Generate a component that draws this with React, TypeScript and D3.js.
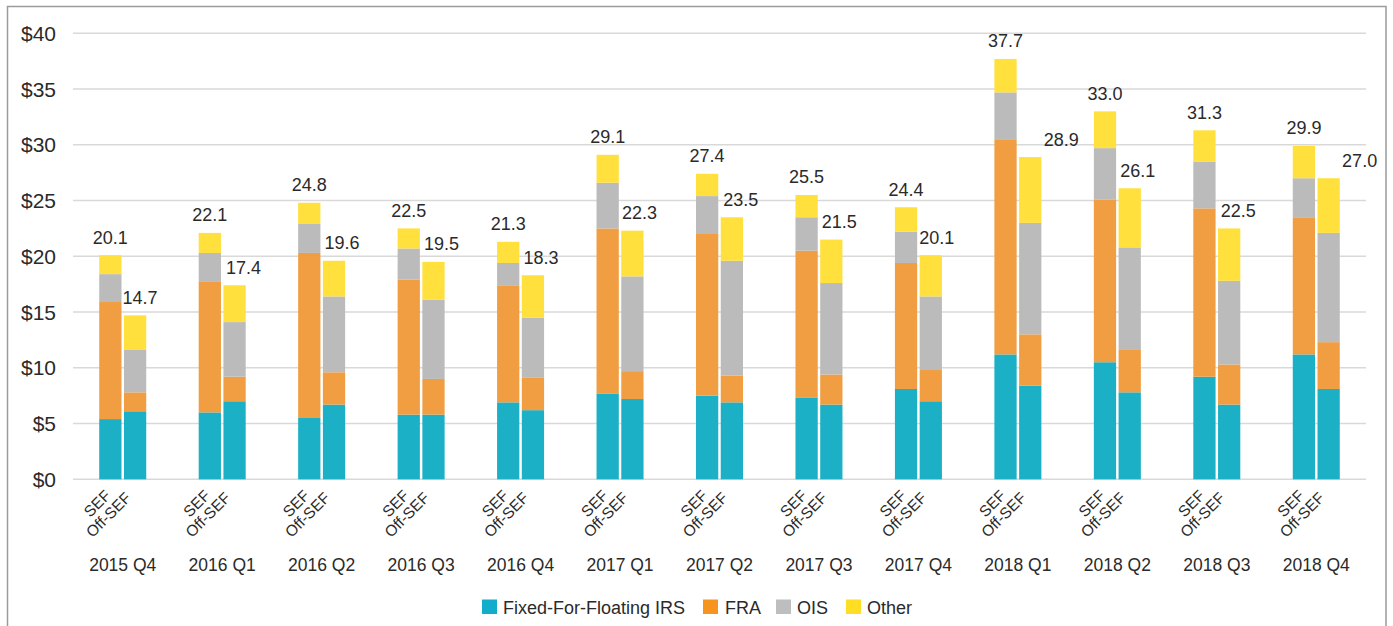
import React from "react";
import * as d3 from "d3";

const quarters = ["2015 Q4", "2016 Q1", "2016 Q2", "2016 Q3", "2016 Q4", "2017 Q1", "2017 Q2", "2017 Q3", "2017 Q4", "2018 Q1", "2018 Q2", "2018 Q3", "2018 Q4"];
const venues = ["SEF", "Off-SEF"];
const seriesNames = ["Fixed-For-Floating IRS", "FRA", "OIS", "Other"];

const sefFixedFloat = [5.4, 6.0, 5.5, 5.8, 6.9, 7.7, 7.5, 7.3, 8.1, 11.2, 10.5, 9.2, 11.2];
const sefFRA = [10.5, 11.7, 14.8, 12.1, 10.5, 14.8, 14.5, 13.2, 11.3, 19.3, 14.6, 15.1, 12.3];
const sefOIS = [2.5, 2.6, 2.6, 2.8, 2.0, 4.1, 3.4, 3.0, 2.8, 4.2, 4.6, 4.2, 3.5];
const sefOther = [1.7, 1.8, 1.9, 1.8, 1.9, 2.5, 2.0, 2.0, 2.2, 3.0, 3.3, 2.8, 2.9];

const offFixedFloat = [6.1, 7.0, 6.7, 5.8, 6.2, 7.2, 6.9, 6.7, 7.0, 8.4, 7.8, 6.7, 8.1];
const offFRA = [1.7, 2.2, 2.9, 3.2, 2.9, 2.5, 2.4, 2.7, 2.8, 4.6, 3.8, 3.6, 4.2];
const offOIS = [3.8, 4.9, 6.8, 7.1, 5.4, 8.5, 10.3, 8.2, 6.6, 10.0, 9.2, 7.5, 9.8];
const offOther = [3.1, 3.3, 3.2, 3.4, 3.8, 4.1, 3.9, 3.9, 3.7, 5.9, 5.3, 4.7, 4.9];

const yTicks = [0, 5, 10, 15, 20, 25, 30, 35, 40];

// label nudges (layout only) for the Off-SEF total labels
const offLabelNudge = [5, 9, 8, 8, 8, 7, 9, 8, 6, 31, 8, 9, 31];

const barColors = ["#1BB0C5", "#F09E41", "#BBBBBB", "#FFE03D"];
const legendColors = ["#12ADCB", "#F7941E", "#BCBEC0", "#FFDD23"];

const FONT = "'Liberation Sans', Arial, sans-serif";
const TEXT = "#2a2a2a";

export default function App() {
  const W = 1393;
  const H = 626;

  const x = d3.scaleBand<string>().domain(quarters).range([73, 1366]).padding(0);
  const xInner = d3.scaleBand<string>().domain(venues).range([-23.5, 23.5]).paddingInner(0.1);
  const y = d3.scaleLinear().domain([0, 40]).range([479.3, 33.3]);

  const rows = quarters.flatMap((q, i) => [
    { quarter: q, venue: "SEF", idx: i, "Fixed-For-Floating IRS": sefFixedFloat[i], FRA: sefFRA[i], OIS: sefOIS[i], Other: sefOther[i] },
    { quarter: q, venue: "Off-SEF", idx: i, "Fixed-For-Floating IRS": offFixedFloat[i], FRA: offFRA[i], OIS: offOIS[i], Other: offOther[i] },
  ]);

  const stack = d3.stack<any>().keys(seriesNames);
  const stacked = stack(rows);

  const fmt = d3.format(".1f");

  const legendItems = [
    { name: seriesNames[0], x: 482, tx: 503 },
    { name: seriesNames[1], x: 703, tx: 725 },
    { name: seriesNames[2], x: 776, tx: 797 },
    { name: seriesNames[3], x: 846, tx: 867 },
  ];

  return (
    <svg
      width={W}
      height={H}
      style={{ position: "absolute", left: 0, top: 0, display: "block", background: "#fff" }}
      fontFamily={FONT}
    >
      <rect x={7.5} y={6.5} width={1378.5} height={640} fill="#fff" stroke="#9b9b9b" strokeWidth={1.5} />

      {yTicks.map((t) => (
        <line key={t} x1={73} x2={1366} y1={y(t)} y2={y(t)} stroke="#d9d9d9" strokeWidth={1.5} />
      ))}

      {yTicks.map((t) => (
        <text key={"yl" + t} x={56} y={y(t) + 7.5} textAnchor="end" fontSize={21} fill={TEXT}>
          {"$" + t}
        </text>
      ))}

      {stacked.map((layer, si) => (
        <g key={layer.key} fill={barColors[si]}>
          {layer.map((d: any, j: number) => {
            const r = d.data;
            const cx = (x(r.quarter) as number) + x.bandwidth() / 2;
            const bx = cx + (xInner(r.venue) as number);
            return (
              <rect
                key={j}
                x={bx}
                y={y(d[1])}
                width={xInner.bandwidth()}
                height={y(d[0]) - y(d[1])}
              />
            );
          })}
        </g>
      ))}

      {rows.map((r, j) => {
        const total = r["Fixed-For-Floating IRS"] + r.FRA + r.OIS + r.Other;
        const cx = (x(r.quarter) as number) + x.bandwidth() / 2;
        const bc = cx + (xInner(r.venue) as number) + xInner.bandwidth() / 2;
        const nudge = r.venue === "SEF" ? 0 : offLabelNudge[r.idx];
        return (
          <text key={"tl" + j} x={bc + nudge} y={y(total) - 11.5} textAnchor="middle" fontSize={18} fill={TEXT}>
            {fmt(total)}
          </text>
        );
      })}

      {quarters.map((q) => {
        const cx = (x(q) as number) + x.bandwidth() / 2;
        return (
          <g key={"vl" + q} transform={`translate(${cx - 20},${509}) rotate(-45)`}>
            <text x={0} y={-8} textAnchor="middle" dominantBaseline="central" fontSize={15.5} fill={TEXT}>
              {venues[0]}
            </text>
            <text x={0} y={8} textAnchor="middle" dominantBaseline="central" fontSize={15.5} fill={TEXT}>
              {venues[1]}
            </text>
          </g>
        );
      })}

      {quarters.map((q) => {
        const cx = (x(q) as number) + x.bandwidth() / 2;
        return (
          <text key={"ql" + q} x={cx} y={570.5} textAnchor="middle" fontSize={17.5} fill={TEXT}>
            {q}
          </text>
        );
      })}

      {legendItems.map((it, i) => (
        <g key={"lg" + i}>
          <rect x={it.x} y={599.5} width={15} height={14.5} fill={legendColors[i]} />
          <text x={it.tx} y={614} fontSize={18} fill={TEXT}>
            {it.name}
          </text>
        </g>
      ))}
    </svg>
  );
}
